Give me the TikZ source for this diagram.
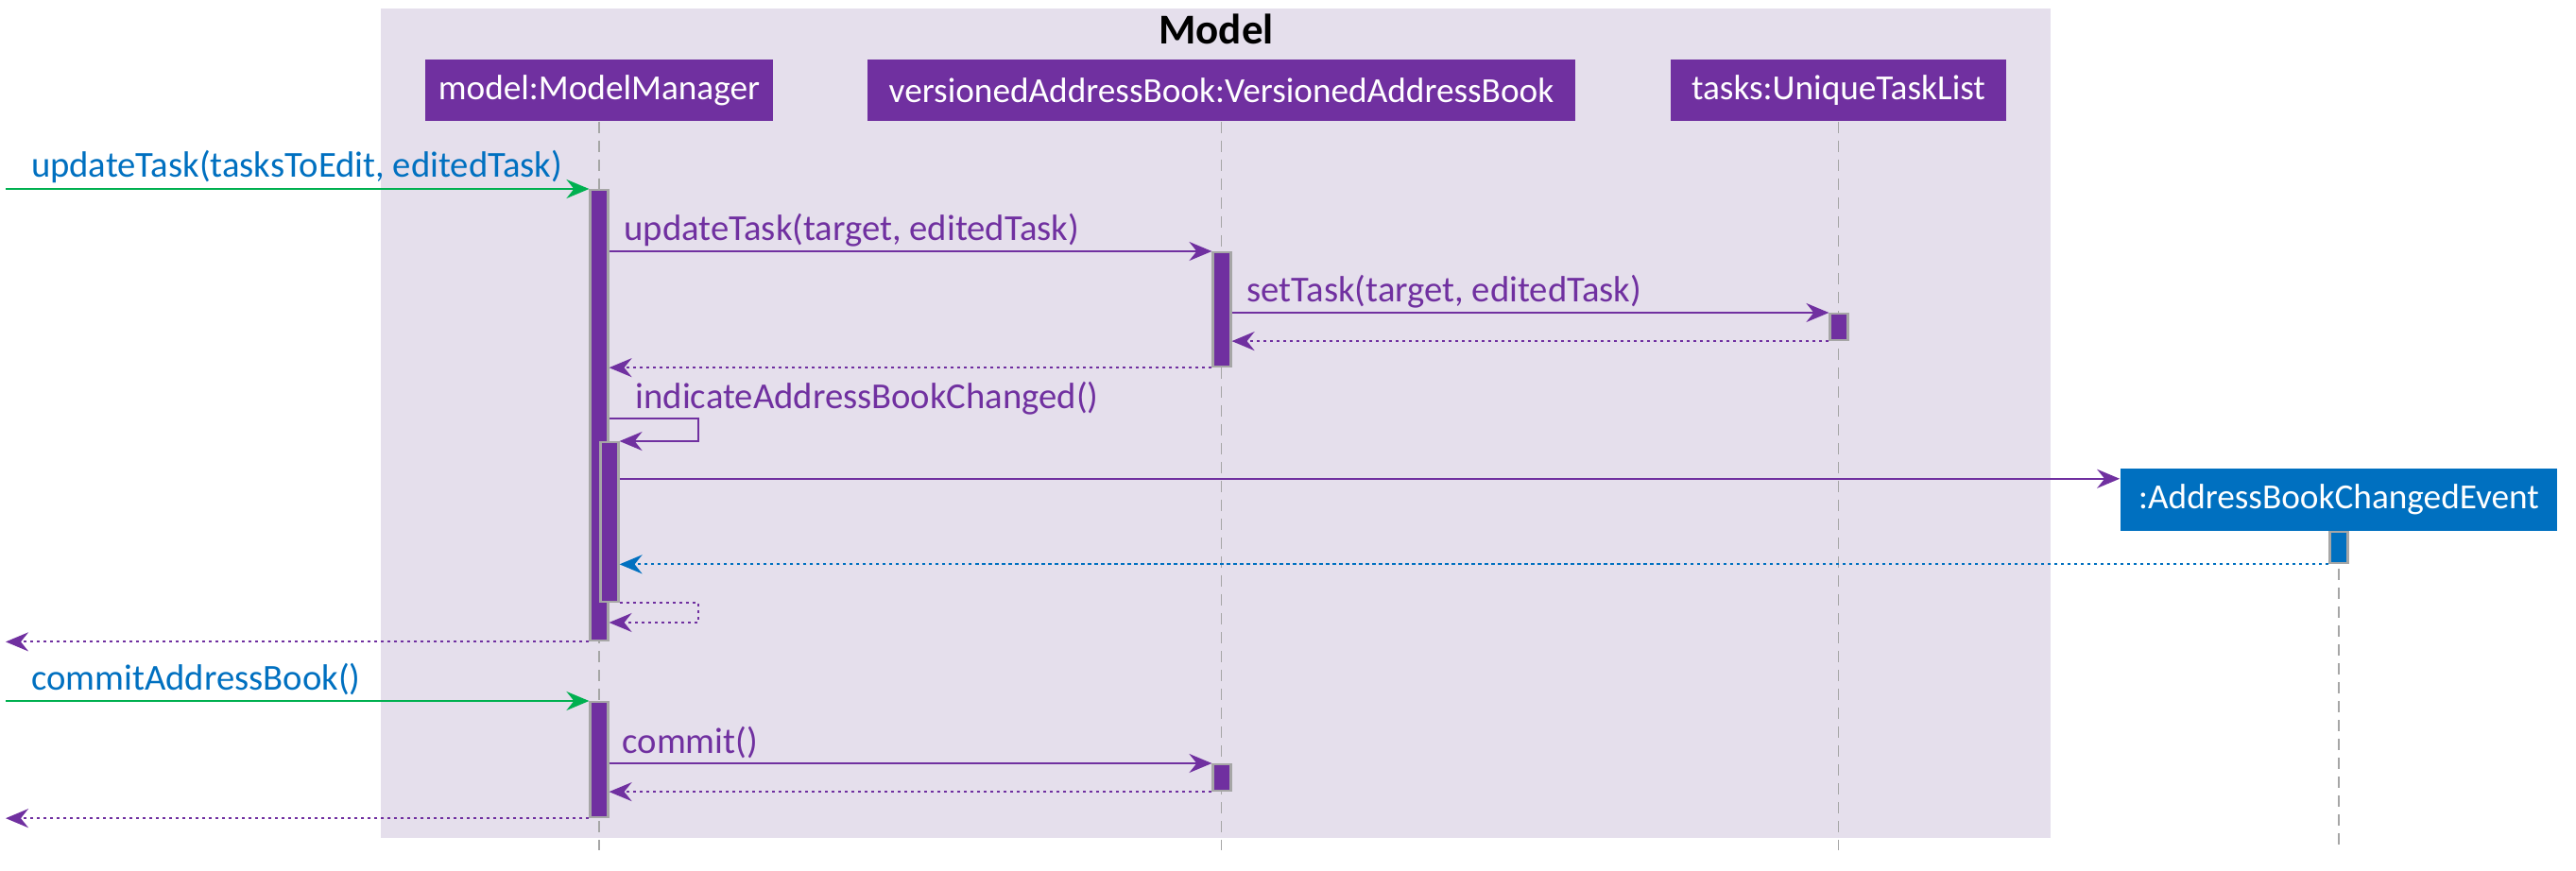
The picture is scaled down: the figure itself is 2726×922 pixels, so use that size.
\documentclass[tikz,border=0pt]{standalone}
\usepackage{fontspec}
\setmainfont{Carlito}
\usetikzlibrary{arrows.meta,positioning,calc}
\definecolor{umlpurple}{HTML}{7030A0}
\definecolor{umlblue}{HTML}{0070C0}
\definecolor{umlgreen}{HTML}{00B050}
\definecolor{boxbg}{HTML}{E5DFEC}
\definecolor{lifegray}{HTML}{A6A6A6}

\begin{document}
\begin{tikzpicture}[x=0.01cm, y=-0.01cm,
        >={Stealth[length=0.24cm,width=0.2cm,inset=0.08cm]},
        every node/.append style={font=\fontsize{10.6}{12}\selectfont}]
      \tikzstyle{obj} = [fill=umlpurple, text=white, minimum height=0.65cm, inner sep=0pt]
      \tikzstyle{activ} = [fill=umlpurple, draw=lifegray, line width=0.6pt, minimum width=0.19cm, inner sep=0pt, anchor=north]
      \tikzstyle{sync} = [->, umlpurple, line width=0.6pt]
      \tikzstyle{ret} = [sync, dash pattern=on 0.035cm off 0.035cm]
      \tikzstyle{lifeline} = [lifegray, line width=0.5pt, dash pattern=on 0.12cm off 0.08cm]
      \tikzstyle{word} = [anchor=base west, inner sep=0pt, text=umlpurple, font=\fontsize{11}{13}\selectfont]
      \useasboundingbox (0,0) rectangle (2726,922);
      % group box
      \fill[boxbg] (403,9) rectangle (2170,887);
      \node[anchor=base, font=\fontsize{12.8}{14}\selectfont\bfseries] (MODEL) at (1287,47) {Model};
      % participants
      \node[obj, minimum width=3.68cm] (MM) at (634,95.5) {model:ModelManager};
      \node[obj, minimum width=7.49cm] (VAB) at (1292.5,95.5) {versionedAddressBook:VersionedAddressBook};
      \node[obj, minimum width=3.55cm] (TASKS) at (1945.5,95.5) {tasks:UniqueTaskList};
      \node[obj, fill=umlblue, minimum width=4.62cm] (EVENT) at (2475,529) {:AddressBookChangedEvent};
      \coordinate (IN1) at (6,200);
      \coordinate (IN2) at (6,742);
      \coordinate (END) at (0,900);
      \coordinate (S1) at (739,443);
      \coordinate (S2) at (739,659);
      \coordinate (C1) at ($(EVENT.north west)+(0,11)$);
      \foreach \p in {MM,VAB,TASKS,EVENT}
        \draw[lifeline] (\p.south) -- (\p.south |- END);
      % activations
      \node[activ, minimum height=4.77cm] (A1) at (634,200) {};
      \node[activ, minimum height=1.21cm] (A2) at (1293,266) {};
      \node[activ, minimum height=0.28cm] (A3) at (1946,331) {};
      \node[activ, minimum height=1.69cm] (A4) at (645,467) {};
      \node[activ, fill=umlblue, minimum height=0.33cm] (A5) at (EVENT.south) {};
      \node[activ, minimum height=1.22cm] (A6) at (634,742) {};
      \node[activ, minimum height=0.28cm] (A7) at (1293,808) {};
      % messages
      \draw[sync, umlgreen] (IN1) -- (A1.north west)
        node[word, text=umlblue, at start, xshift=0.26cm, yshift=0.12cm] {updateTask(tasksToEdit, editedTask)};
      \draw[sync] (A1.east |- A2.north) -- (A2.north west)
        node[word, at start, xshift=0.15cm, yshift=0.11cm] {updateTask(target, editedTask)};
      \draw[sync] (A2.east |- A3.north) -- (A3.north west)
        node[word, at start, xshift=0.15cm, yshift=0.11cm] {setTask(target, editedTask)};
      \draw[ret] (A3.south west) -- (A2.east |- A3.south);
      \draw[ret] (A2.south west) -- (A1.east |- A2.south);
      \draw[sync] (A1.east |- S1) node[word, xshift=0.27cm, yshift=0.10cm] {indicateAddressBookChanged()}
        -- (S1) -- (S1 |- A4.north) -- (A4.north east);
      \draw[sync] (A4.east |- C1) -- (C1);
      \draw[ret, umlblue] (A5.south west) -- (A4.east |- A5.south);
      \draw[ret] (A4.south east) -- (S2 |- A4.south) -- (S2) -- (A1.east |- S2);
      \draw[ret] (A1.south west) -- (IN1 |- A1.south);
      \draw[sync, umlgreen] (IN2) -- (A6.north west)
        node[word, text=umlblue, at start, xshift=0.26cm, yshift=0.11cm] {commitAddressBook()};
      \draw[sync] (A6.east |- A7.north) -- (A7.north west)
        node[word, at start, xshift=0.13cm, yshift=0.10cm] {commit()};
      \draw[ret] (A7.south west) -- (A6.east |- A7.south);
      \draw[ret] (A6.south west) -- (IN1 |- A6.south);
    \end{tikzpicture}
\end{document}
